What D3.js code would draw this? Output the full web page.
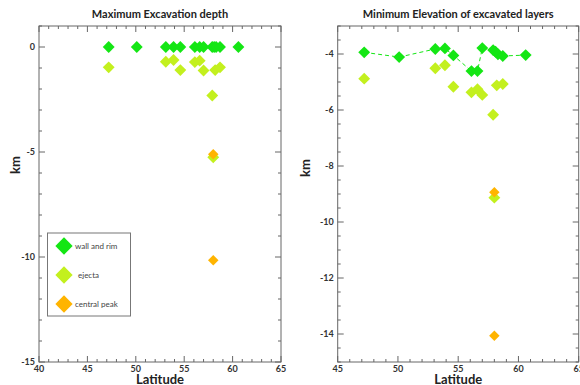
<!DOCTYPE html>
<html>
<head>
<meta charset="utf-8">
<script src="https://cdn.jsdelivr.net/npm/d3@7"></script>
<style>
  body { margin: 0; background: #fff; }
  svg text { font-family: Lato, "Open Sans", sans-serif; }
</style>
</head>
<body>
<div id="chart"></div>
<script>
// --- data ---
const wallLat = [47.2, 50.1, 53.1, 53.9, 54.6, 56.1, 56.6, 57.0, 57.9, 58.1, 58.3, 58.7, 60.6];
const wallDepth = [0, 0, 0, 0, 0, 0, 0, 0, 0, 0, 0, 0, 0];
const wallElev = [-3.94, -4.11, -3.82, -3.80, -4.05, -4.61, -4.61, -3.79, -3.86, -3.92, -4.01, -4.07, -4.04];

const ejectaLat = [47.2, 53.1, 53.9, 54.6, 56.1, 56.6, 57.0, 57.9, 58.2, 58.7, 58.0];
const ejectaDepth = [-0.97, -0.70, -0.62, -1.10, -0.72, -0.65, -1.12, -2.31, -1.10, -0.97, -5.25];
const ejectaElev = [-4.88, -4.51, -4.40, -5.17, -5.37, -5.26, -5.46, -6.17, -5.12, -5.07, -9.13];

const peakLat = [58.0, 58.0];
const peakDepth = [-5.11, -10.16];
const peakElev = [-8.94, -14.06];

const legendLabels = ["wall and rim", "ejecta", "central peak"];
const colors = ["#14e614", "#c3f01e", "#ffb400"];

const W = 580, H = 385;
const svg = d3.select("#chart").append("svg").attr("width", W).attr("height", H);

const diamond = d3.symbol().type(d3.symbolDiamond2);

function panel(opts) {
  const x = d3.scaleLinear().domain(opts.xDomain).range([opts.left, opts.right]);
  const y = d3.scaleLinear().domain(opts.yDomain).range([opts.bottom, opts.top]);
  const g = svg.append("g");

  // frame
  g.append("rect")
    .attr("x", opts.left).attr("y", opts.top)
    .attr("width", opts.right - opts.left).attr("height", opts.bottom - opts.top)
    .attr("fill", "none").attr("stroke", "#666").attr("stroke-width", 1);

  // ticks, inward on all four sides
  const xMinor = d3.range(opts.xDomain[0], opts.xDomain[1] + 0.01, 1);
  const yMinor = d3.range(opts.yDomain[0], opts.yDomain[1] + 0.01, opts.yMinorStep);
  const xMajor = v => v % 5 === 0;
  const yMajor = v => Math.abs(v % opts.yMajorStep) < 1e-6;

  const tk = g.append("g").attr("stroke", "#666").attr("stroke-width", 1);
  xMinor.forEach(v => {
    const len = xMajor(v) ? 6 : 3;
    tk.append("line").attr("x1", x(v)).attr("x2", x(v)).attr("y1", opts.bottom).attr("y2", opts.bottom - len);
    tk.append("line").attr("x1", x(v)).attr("x2", x(v)).attr("y1", opts.top).attr("y2", opts.top + len);
  });
  yMinor.forEach(v => {
    const len = yMajor(v) ? 6 : 3;
    tk.append("line").attr("y1", y(v)).attr("y2", y(v)).attr("x1", opts.left).attr("x2", opts.left + len);
    tk.append("line").attr("y1", y(v)).attr("y2", y(v)).attr("x1", opts.right).attr("x2", opts.right - len);
  });

  // tick labels
  g.selectAll(".xl").data(xMinor.filter(xMajor)).enter().append("text")
    .attr("x", d => x(d)).attr("y", opts.bottom + 10)
    .attr("text-anchor", "middle").attr("font-size", 9).attr("font-weight", "bold").attr("fill", "#333")
    .text(d => d);
  g.selectAll(".yl").data(yMinor.filter(yMajor)).enter().append("text")
    .attr("x", opts.left - 4).attr("y", d => y(d) + 3)
    .attr("text-anchor", "end").attr("font-size", 9).attr("font-weight", "bold").attr("fill", "#333")
    .text(d => d);

  // titles
  g.append("text").attr("x", (opts.left + opts.right) / 2).attr("y", 18)
    .attr("text-anchor", "middle").attr("font-size", 11).attr("font-weight", "bold").attr("fill", "#222")
    .text(opts.title);
  g.append("text").attr("x", (opts.left + opts.right) / 2).attr("y", opts.bottom + 22)
    .attr("text-anchor", "middle").attr("font-size", 13).attr("font-weight", "bold").attr("fill", "#222")
    .text("Latitude");
  g.append("text")
    .attr("transform", `translate(${opts.kmX},${opts.kmY}) rotate(-90)`)
    .attr("text-anchor", "middle").attr("font-size", 13).attr("font-weight", "bold").attr("fill", "#222")
    .text("km");

  // dashed line through wall and rim
  if (opts.line) {
    const pts = opts.series[0].lat.map((d, i) => [d, opts.series[0].val[i]]);
    g.append("path")
      .attr("d", d3.line().x(d => x(d[0])).y(d => y(d[1]))(pts))
      .attr("fill", "none").attr("stroke", colors[0]).attr("stroke-width", 1)
      .attr("stroke-dasharray", "4,3");
  }

  // points
  opts.series.forEach((s, si) => {
    g.append("g").selectAll("path").data(s.lat.map((d, i) => [d, s.val[i]])).enter().append("path")
      .attr("d", diamond.size(si === 2 ? 70 : 90))
      .attr("transform", d => `translate(${x(d[0])},${y(d[1])})`)
      .attr("fill", colors[si]);
  });
}

panel({
  xDomain: [40, 65], yDomain: [-15, 1], yMinorStep: 1, yMajorStep: 5,
  left: 39, right: 281, top: 26, bottom: 362,
  title: "Maximum Excavation depth", kmX: 20, kmY: 165,
  series: [
    { lat: wallLat, val: wallDepth },
    { lat: ejectaLat, val: ejectaDepth },
    { lat: peakLat, val: peakDepth }
  ]
});

panel({
  xDomain: [45, 65], yDomain: [-15, -3], yMinorStep: 0.5, yMajorStep: 2,
  left: 337.7, right: 578.7, top: 26, bottom: 362,
  title: "Minimum Elevation of excavated layers", kmX: 310, kmY: 168,
  line: true,
  series: [
    { lat: wallLat, val: wallElev },
    { lat: ejectaLat, val: ejectaElev },
    { lat: peakLat, val: peakElev }
  ]
});

// legend
const leg = svg.append("g");
leg.append("rect").attr("x", 47.5).attr("y", 233).attr("width", 83).attr("height", 83)
  .attr("fill", "#fff").attr("stroke", "#777").attr("stroke-width", 1);
legendLabels.forEach((lab, i) => {
  const cy = 246 + i * 29;
  leg.append("path").attr("d", diamond.size(190))
    .attr("transform", `translate(64,${cy})`).attr("fill", colors[i]);
  leg.append("text").attr("x", i === 1 ? 78 : 75).attr("y", cy + 3)
    .attr("font-size", 8).attr("fill", "#444").text(lab);
});
</script>
</body>
</html>
